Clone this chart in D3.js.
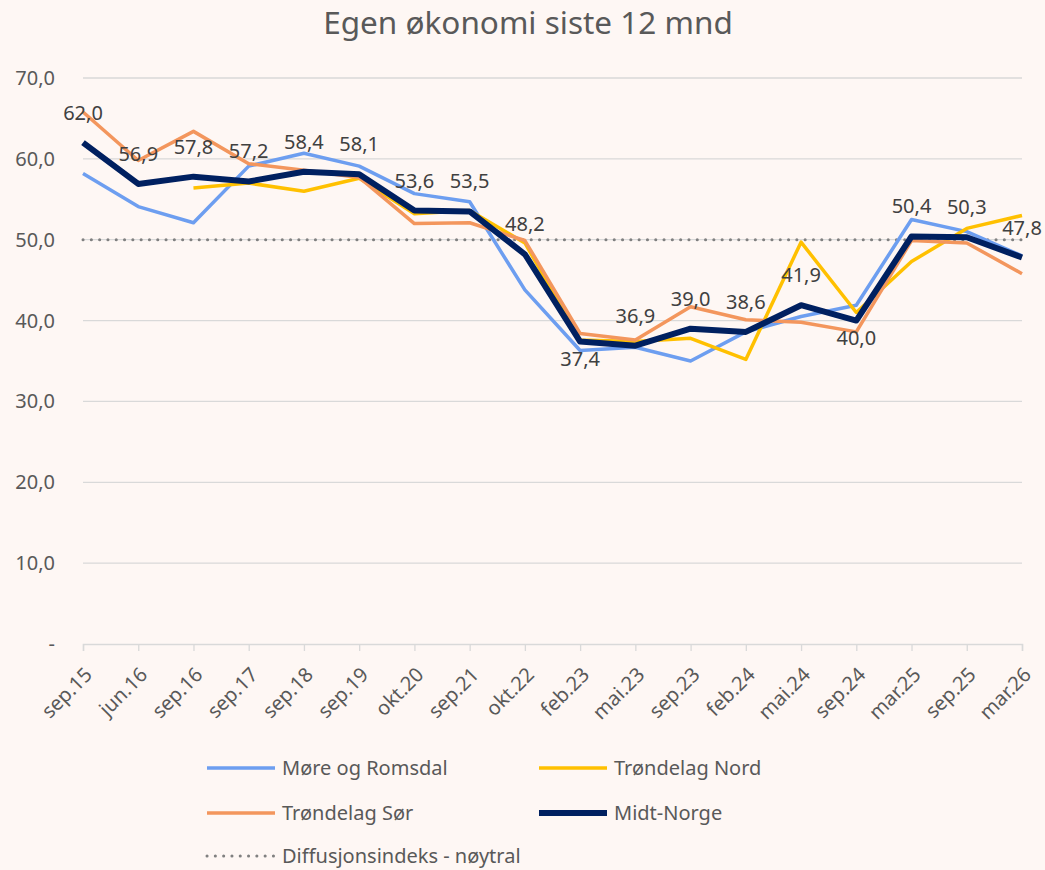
<!DOCTYPE html>
<html>
<head>
<meta charset="utf-8">
<script src="https://cdn.jsdelivr.net/npm/d3@7"></script>
<style>
  body { margin: 0; background: #fef7f4; }
  svg { display: block; font-family: "Noto Sans", "Open Sans", sans-serif; }
</style>
</head>
<body>
<div></div>
<script>
const width = 1045
const height = 870

// data
const categories = ['sep.15', 'jun.16', 'sep.16', 'sep.17', 'sep.18', 'sep.19', 'okt.20', 'sep.21', 'okt.22',
  'feb.23', 'mai.23', 'sep.23', 'feb.24', 'mai.24', 'sep.24', 'mar.25', 'sep.25', 'mar.26']
const more = [58.2, 54.1, 52.1, 59.1, 60.7, 59.1, 55.7, 54.7, 43.8, 36.3, 36.7, 35.0, 38.6, 40.5, 41.9, 52.5, 51.0, 48.0]
const nord = [null, null, 56.4, 57.0, 56.0, 57.6, 53.2, 53.6, 49.6, 37.6, 37.4, 37.8, 35.2, 49.7, 41.0, 47.3, 51.4, 53.0]
const sor = [65.8, 59.8, 63.4, 59.4, 58.6, 57.7, 52.0, 52.1, 49.9, 38.4, 37.6, 41.7, 40.1, 39.8, 38.6, 49.9, 49.6, 45.8]
const midt = [62.0, 56.9, 57.8, 57.2, 58.4, 58.1, 53.6, 53.5, 48.2, 37.4, 36.9, 39.0, 38.6, 41.9, 40.0, 50.4, 50.3, 47.8]
const neutral = 50
const yTicks = [0, 10, 20, 30, 40, 50, 60, 70]
const labelBelow = ['feb.23', 'sep.24']

const series = [
  { name: 'Møre og Romsdal', values: more, color: '#6d9ef0', w: 3.5 },
  { name: 'Trøndelag Nord', values: nord, color: '#ffc000', w: 3.5 },
  { name: 'Trøndelag Sør', values: sor, color: '#f3965d', w: 3.5 },
  { name: 'Midt-Norge', values: midt, color: '#002060', w: 6 }
]

let svg = d3.select('div').append('svg')
  .attr('width', width)
  .attr('height', height)

svg.append('rect').attr('width', width).attr('height', height).style('fill', '#fef7f4')

svg.append('text')
  .attr('x', 528).attr('y', 34)
  .attr('text-anchor', 'middle')
  .style('font-size', '31.5px')
  .style('fill', '#595959')
  .text('Egen økonomi siste 12 mnd')

const x = d3.scalePoint().domain(categories).range([83, 1022])
const y = d3.scaleLinear().domain([0, 70]).range([644, 78])

// gridlines
svg.append('g').selectAll('line')
  .data(yTicks.filter(t => t > 0))
  .enter().append('line')
  .attr('x1', 83).attr('x2', 1022)
  .attr('y1', d => y(d)).attr('y2', d => y(d))
  .style('stroke', '#d9d9d9').style('stroke-width', 1.3)

// y labels
svg.append('g').selectAll('text')
  .data(yTicks)
  .enter().append('text')
  .attr('x', 55).attr('y', d => y(d) + 7)
  .attr('text-anchor', 'end')
  .style('font-size', '20px')
  .style('fill', '#595959')
  .text(d => d === 0 ? '-' : d.toFixed(1).replace('.', ','))

// x axis
let xAxis = svg.append('g')
  .attr('transform', 'translate(0,644)')
  .call(d3.axisBottom(x).tickSize(7))
xAxis.select('.domain').style('stroke', '#d9d9d9').style('stroke-width', 1.5)
xAxis.selectAll('.tick line').style('stroke', '#d9d9d9').style('stroke-width', 1.3)
xAxis.selectAll('.tick text')
  .style('font-size', '20px')
  .style('fill', '#595959')
  .style('font-family', '"Noto Sans", sans-serif')
  .attr('text-anchor', 'end')
  .attr('x', 0).attr('y', 0).attr('dy', '0.35em')
  .attr('transform', 'translate(5,27) rotate(-45)')

// neutral line
svg.append('line')
  .attr('x1', 83).attr('x2', 1022)
  .attr('y1', y(neutral)).attr('y2', y(neutral))
  .style('stroke', '#808080').style('stroke-width', 3)
  .style('stroke-dasharray', '0.1 8.2').style('stroke-linecap', 'round')

const line = d3.line()
  .defined(d => d !== null)
  .x((d, i) => x(categories[i]))
  .y(d => y(d))

series.forEach(s => {
  svg.append('path')
    .datum(s.values)
    .attr('d', line)
    .style('fill', 'none')
    .style('stroke', s.color)
    .style('stroke-width', s.w)
    .style('stroke-linejoin', 'round')
})

// data labels for Midt-Norge
svg.append('g').selectAll('text')
  .data(midt)
  .enter().append('text')
  .attr('x', (d, i) => x(categories[i]))
  .attr('y', (d, i) => labelBelow.includes(categories[i]) ? y(d) + 24 : y(d) - 23)
  .attr('text-anchor', 'middle')
  .style('font-size', '20px')
  .style('fill', '#404040')
  .text(d => d.toFixed(1).replace('.', ','))

// legend
const legendItems = [
  { name: series[0].name, color: series[0].color, w: 3.5, lx: 207, ly: 768 },
  { name: series[1].name, color: series[1].color, w: 3.5, lx: 539, ly: 768 },
  { name: series[2].name, color: series[2].color, w: 3.5, lx: 207, ly: 813 },
  { name: series[3].name, color: series[3].color, w: 6, lx: 539, ly: 813 },
  { name: 'Diffusjonsindeks - nøytral', color: '#808080', w: 3, lx: 207, ly: 856, dotted: true }
]
let leg = svg.append('g').selectAll('g')
  .data(legendItems)
  .enter().append('g')
  .attr('transform', d => 'translate(' + d.lx + ',' + d.ly + ')')
leg.append('line')
  .attr('x1', 0).attr('x2', 68)
  .style('stroke', d => d.color)
  .style('stroke-width', d => d.w)
  .style('stroke-dasharray', d => d.dotted ? '0.1 8.2' : null)
  .style('stroke-linecap', d => d.dotted ? 'round' : 'butt')
leg.append('text')
  .attr('x', 75).attr('y', 7)
  .style('font-size', '20px')
  .style('fill', '#595959')
  .text(d => d.name)
</script>
</body>
</html>
